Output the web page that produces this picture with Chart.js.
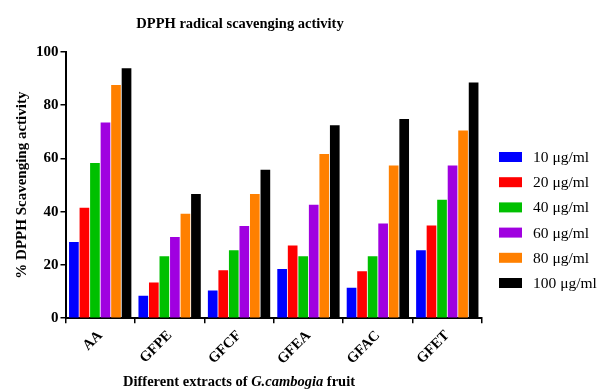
<!DOCTYPE html>
<html>
<head>
<meta charset="utf-8">
<title>DPPH radical scavenging activity</title>
<script src="https://cdn.jsdelivr.net/npm/chart.js@4.4.1/dist/chart.umd.min.js"></script>
<style>
    html, body { margin: 0; padding: 0; background: #fff; }
    canvas { display: block; }
</style>
</head>
<body>
<canvas id="dpphChart" width="599" height="390"></canvas>
<script>
// Extracts on the x axis and the tested concentrations
const extracts = ['AA', 'GFPE', 'GFCF', 'GFEA', 'GFAC', 'GFET'];
const doses = ['10 μg/ml', '20 μg/ml', '40 μg/ml', '60 μg/ml', '80 μg/ml', '100 μg/ml'];

// % DPPH scavenging per extract, one array per concentration
const dose10 = [28.6, 8.4, 10.4, 18.5, 11.4, 25.5];
const dose20 = [41.5, 13.4, 18.0, 27.3, 17.6, 34.8];
const dose40 = [58.3, 23.3, 25.5, 23.3, 23.3, 44.5];
const dose60 = [73.5, 30.5, 34.6, 42.6, 35.6, 57.4];
const dose80 = [87.6, 39.2, 46.7, 61.7, 57.4, 70.5];
const dose100 = [93.9, 46.7, 55.8, 72.5, 74.8, 88.5];

const yTicks = [0, 20, 40, 60, 80, 100];
const doseColors = ['#0000ff', '#ff0000', '#00c000', '#a000e0', '#ff8000', '#000000'];

const serif = '"Liberation Serif", "DejaVu Serif", serif';

const series = [dose10, dose20, dose40, dose60, dose80, dose100];
const datasets = series.map((values, i) => ({
    label: doses[i],
    data: values,
    backgroundColor: doseColors[i],
    borderWidth: 0,
    barPercentage: 0.92,
    categoryPercentage: 0.91
}));

// Title, x axis title (with the italic species name) and the legend
const extraText = {
    id: 'extraText',
    afterDraw(chart) {
        const ctx = chart.ctx;
        const area = chart.chartArea;
        ctx.save();
        ctx.fillStyle = '#000';
        ctx.textBaseline = 'middle';

        ctx.font = 'bold 14.5px ' + serif;
        ctx.textAlign = 'center';
        ctx.fillText('DPPH radical scavenging activity', 240, 24);

        const parts = [
            ['Different extracts of ', 'bold 14.5px ' + serif],
            ['G.cambogia', 'italic bold 14.5px ' + serif],
            [' fruit', 'bold 14.5px ' + serif]
        ];
        let total = 0;
        parts.forEach(p => { ctx.font = p[1]; total += ctx.measureText(p[0]).width; });
        let x = 239 - total / 2;
        ctx.textAlign = 'left';
        parts.forEach(p => {
            ctx.font = p[1];
            ctx.fillText(p[0], x, 382);
            x += ctx.measureText(p[0]).width;
        });

        // legend
        const lx = area.right + 17;
        chart.data.datasets.forEach((ds, i) => {
            const y = 157 + i * 25.2;
            ctx.fillStyle = ds.backgroundColor;
            ctx.fillRect(lx, y - 5, 23, 10);
            ctx.fillStyle = '#000';
            ctx.font = '15.5px ' + serif;
            ctx.fillText(ds.label, lx + 34, y + 1);
        });
        ctx.restore();
    }
};

const ctx = document.getElementById('dpphChart').getContext('2d');
const dpphChart = new Chart(ctx, {
    type: 'bar',
    data: { labels: extracts, datasets: datasets },
    plugins: [extraText],
    options: {
        responsive: false,
        animation: false,
        layout: { padding: { top: 52, right: 117, bottom: 18, left: 13 } },
        plugins: {
            legend: { display: false },
            title: { display: false },
            tooltip: { enabled: false }
        },
        scales: {
            x: {
                grid: { display: true, drawOnChartArea: false, drawTicks: true, tickLength: 5, color: '#000', lineWidth: 1.5 },
                border: { display: true, color: '#000', width: 2 },
                ticks: {
                    color: '#000',
                    font: { family: serif, size: 14.5, weight: 'bold' },
                    minRotation: 45,
                    maxRotation: 45,
                    padding: 4
                }
            },
            y: {
                min: 0,
                max: 100,
                afterBuildTicks(scale) {
                    scale.ticks = yTicks.map(v => ({ value: v }));
                },
                grid: { display: true, drawOnChartArea: false, drawTicks: true, tickLength: 5, color: '#000', lineWidth: 1.5 },
                border: { display: true, color: '#000', width: 2 },
                ticks: {
                    color: '#000',
                    font: { family: serif, size: 15, weight: 'bold' },
                    padding: 2
                },
                title: {
                    display: true,
                    text: '% DPPH Scavenging activity',
                    color: '#000',
                    font: { family: serif, size: 15, weight: 'bold' },
                    padding: { top: 0, bottom: 3 }
                }
            }
        }
    }
});
</script>
</body>
</html>
